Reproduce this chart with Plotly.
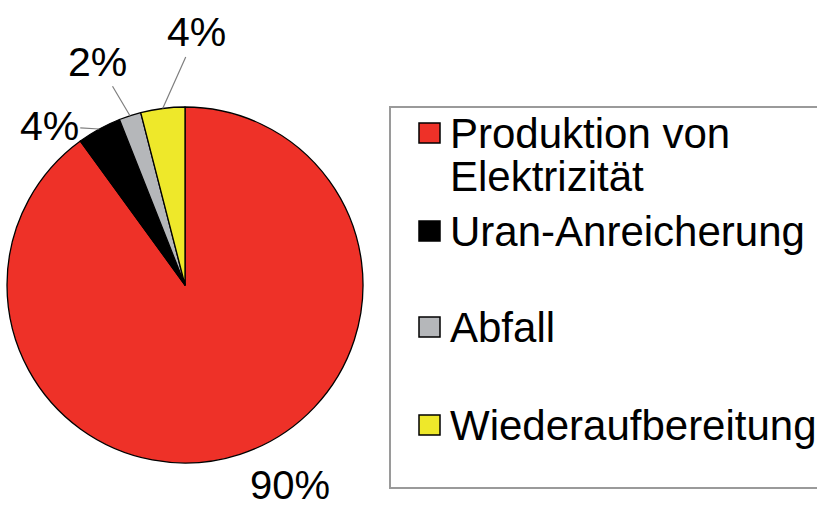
import math
import plotly.graph_objects as go

categories = ["Produktion von<br>Elektrizität", "Uran-Anreicherung", "Abfall", "Wiederaufbereitung"]
values = [90, 4, 2, 4]
colors = ["#EE3128", "#000000", "#B5B7BA", "#EEE82A"]

W, H = 817, 507
FONT = "Liberation Sans, Arial, sans-serif"
CX, CY, R = 185, 285, 178          # pie centre / radius in pixels
# label offsets (pixels) relative to each slice's outer midpoint
label_offsets = [(50, 31), (-50, -3), (-32, -54), (34, -76)]
leader = [False, True, True, True]

fig = go.Figure()
fig.add_trace(go.Pie(
    labels=[c.replace("<br>", " ") for c in categories],
    values=values,
    sort=False,
    direction="clockwise",
    rotation=0,
    marker=dict(colors=colors, line=dict(color="#000000", width=1.3)),
    textinfo="none",
    domain=dict(x=[(CX - R) / W, (CX + R) / W], y=[(H - CY - R) / H, (H - CY + R) / H]),
    showlegend=False,
    hoverinfo="label+percent",
))

annotations = []
total = sum(values)
cum = 0
for v, (ox, oy), ld in zip(values, label_offsets, leader):
    mid = (cum + v / 2) / total * 2 * math.pi
    cum += v
    px = CX + R * math.sin(mid)
    py = CY - R * math.cos(mid)
    pct = f"{round(100 * v / total)}%"
    if ld:
        annotations.append(dict(xref="paper", yref="paper", x=px / W, y=1 - py / H,
                                text=pct, showarrow=True, arrowhead=0, arrowwidth=1.2,
                                arrowcolor="#7F7F7F", ax=ox, ay=oy, standoff=0,
                                font=dict(family=FONT, size=41, color="#000000")))
    else:
        annotations.append(dict(xref="paper", yref="paper", x=(px + ox) / W, y=1 - (py + oy) / H,
                                text=pct, showarrow=False, xanchor="center", yanchor="middle",
                                font=dict(family=FONT, size=40, color="#000000")))

# legend drawn as a framed box
shapes = [dict(type="rect", xref="paper", yref="paper",
               x0=390 / W, x1=1.05, y0=1 - 488 / H, y1=1 - 107 / H,
               line=dict(color="#9A9A9A", width=2), fillcolor="rgba(0,0,0,0)")]
row_centers = [133, 231, 327, 425]
for cat, col, yc in zip(categories, colors, row_centers):
    shapes.append(dict(type="rect", xref="paper", yref="paper",
                       x0=419 / W, x1=440 / W, y0=1 - (yc + 10) / H, y1=1 - (yc - 10) / H,
                       fillcolor=col, line=dict(color="#000000", width=1.5)))
    for k, line in enumerate(cat.split("<br>")):
        annotations.append(dict(xref="paper", yref="paper", x=448 / W, y=1 - (yc + 43 * k) / H,
                                text=line, showarrow=False, xanchor="left", yanchor="middle",
                                font=dict(family=FONT, size=42, color="#000000")))

fig.update_layout(
    width=W, height=H,
    margin=dict(l=0, r=0, t=0, b=0),
    paper_bgcolor="#FFFFFF", plot_bgcolor="#FFFFFF",
    shapes=shapes, annotations=annotations,
)
fig.write_html("out.html", config={"displayModeBar": False},
               post_script="document.body.style.margin='0';document.body.style.overflow='hidden';")
